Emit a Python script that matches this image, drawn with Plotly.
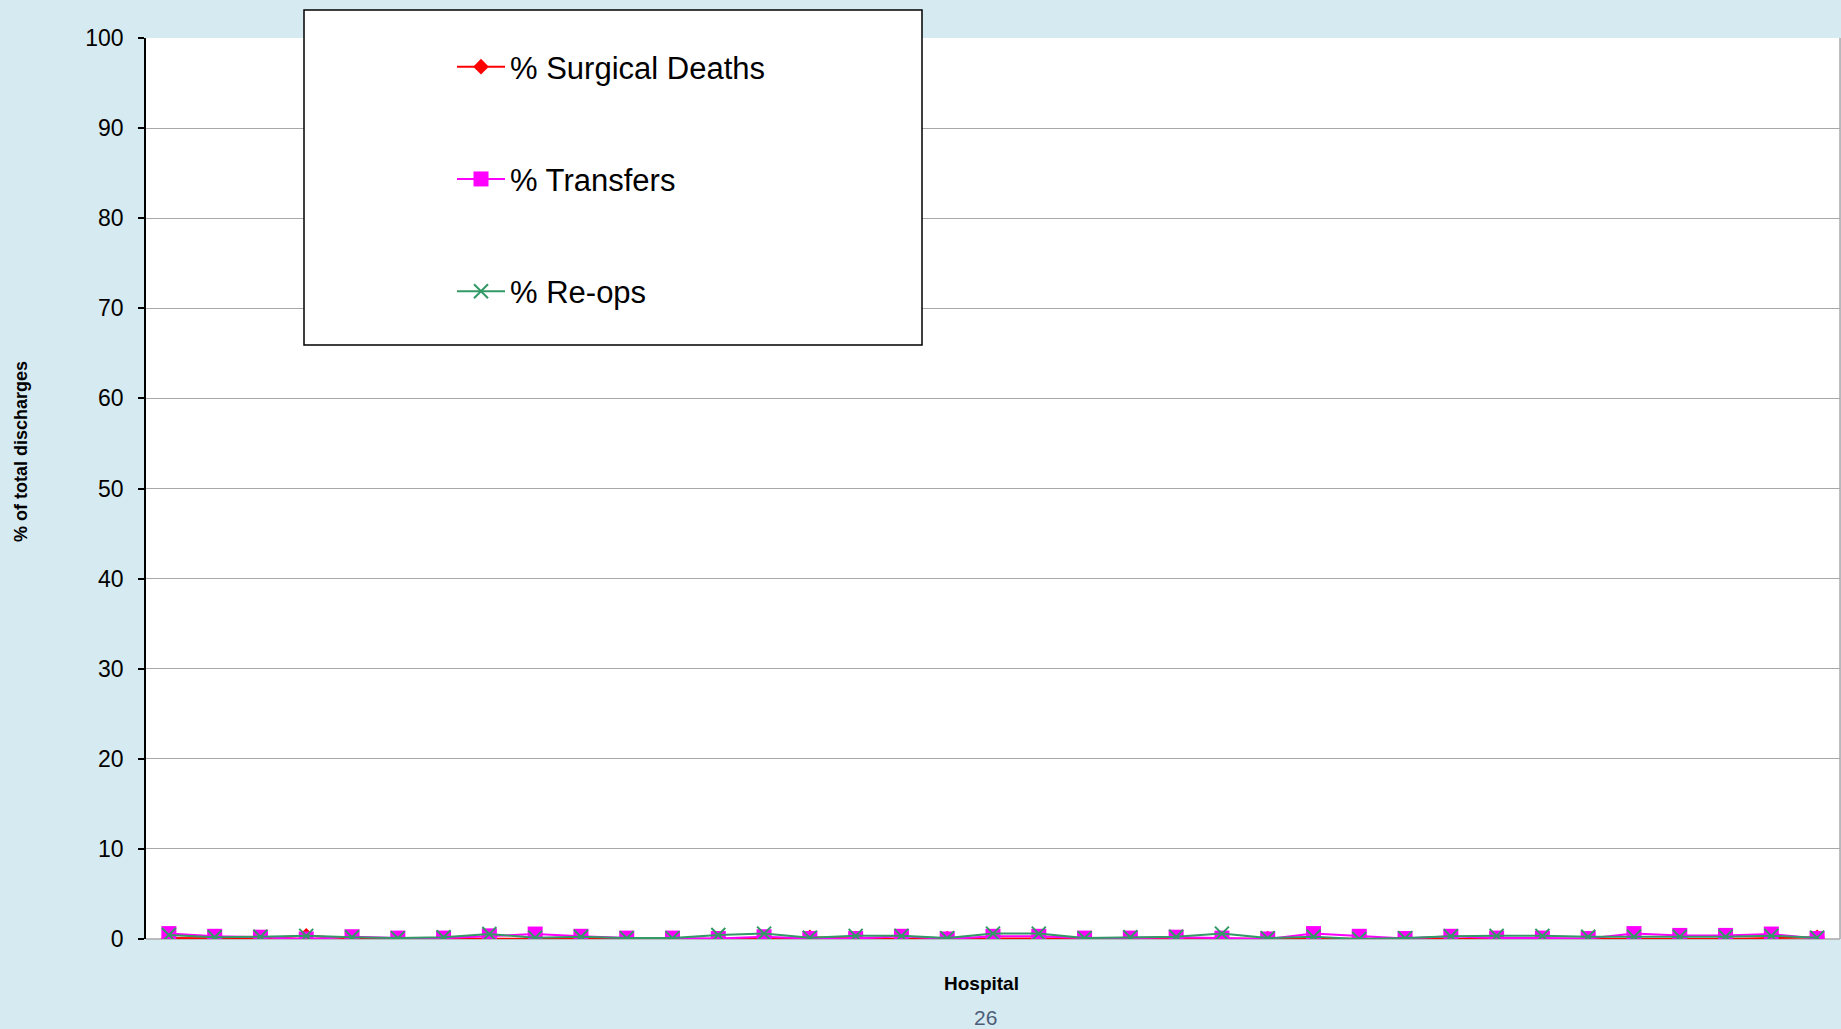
import plotly.graph_objects as go

hospitals = list(range(1, 38))
surgical_deaths = [0.1, 0.05, 0.05, 0.35, 0.05, 0.05, 0.05, 0.05, 0.0, 0.0,
                   0.05, 0.05, 0.05, 0.0, 0.2, 0.05, 0.0, 0.05, 0.05, 0.05,
                   0.05, 0.05, 0.05, 0.05, 0.05, 0.0, 0.05, 0.05, 0.05, 0.05,
                   0.05, 0.05, 0.0, 0.0, 0.0, 0.1, 0.2]
transfers = [0.6, 0.3, 0.2, 0.0, 0.25, 0.1, 0.1, 0.35, 0.55, 0.3,
             0.1, 0.1, 0.05, 0.25, 0.05, 0.05, 0.3, 0.0, 0.3, 0.3,
             0.1, 0.1, 0.2, 0.1, 0.0, 0.6, 0.3, 0.05, 0.3, 0.1,
             0.1, 0.05, 0.6, 0.4, 0.4, 0.55, 0.05]
re_ops = [0.45, 0.2, 0.25, 0.35, 0.2, 0.1, 0.2, 0.55, 0.15, 0.25,
          0.1, 0.1, 0.45, 0.6, 0.15, 0.35, 0.35, 0.1, 0.6, 0.6,
          0.1, 0.2, 0.25, 0.6, 0.1, 0.25, 0.0, 0.1, 0.3, 0.35,
          0.35, 0.25, 0.25, 0.25, 0.25, 0.35, 0.15]
y_ticks = [0, 10, 20, 30, 40, 50, 60, 70, 80, 90, 100]

FONT = "Liberation Sans, Arial, sans-serif"

fig = go.Figure()
fig.add_trace(go.Scatter(
    x=hospitals, y=surgical_deaths, name="% Surgical Deaths", mode="lines+markers",
    line=dict(color="#ff0000", width=2),
    marker=dict(symbol="diamond", size=12, color="#ff0000"),
    legendgroup="a"))
fig.add_trace(go.Scatter(
    x=hospitals, y=transfers, name="% Transfers", mode="lines+markers",
    line=dict(color="#ff00ff", width=2),
    marker=dict(symbol="square", size=15, color="#ff00ff"),
    legendgroup="b"))
fig.add_trace(go.Scatter(
    x=hospitals, y=re_ops, name="% Re-ops", mode="lines+markers",
    line=dict(color="#339966", width=2),
    marker=dict(symbol="x-thin", size=14, color="#339966",
                line=dict(color="#339966", width=2)),
    legendgroup="c"))

L, R, T, B = 146, 1, 38, 90
W, H = 1841, 1029
pw = W - L - R
ph = H - T - B

def px_x(x):
    return (x - L) / pw

def px_y(y):
    return (H - B - y) / ph

fig.update_layout(
    width=W, height=H,
    margin=dict(l=L, r=R, t=T, b=B),
    paper_bgcolor="#d6eaf1",
    plot_bgcolor="#ffffff",
    font=dict(family=FONT, color="#000000"),
    showlegend=True,
    legend=dict(
        x=px_x(452), y=px_y(40), xanchor="left", yanchor="top",
        bgcolor="rgba(0,0,0,0)", borderwidth=0,
        font=dict(size=31, family=FONT, color="#000000"),
        traceorder="grouped", tracegroupgap=69,
        itemwidth=48,
    ),
    xaxis=dict(
        range=[0.5, 37.5], showticklabels=False, showgrid=False,
        zeroline=False, ticks="", showline=False,
    ),
    yaxis=dict(
        range=[0, 100], tickvals=y_ticks, showgrid=True,
        gridcolor="#a8a8a8", gridwidth=1,
        zeroline=False, showline=True, linecolor="#000000", linewidth=1.5,
        ticks="outside", ticklen=6, tickcolor="#000000", tickwidth=1.5,
        tickfont=dict(size=23, family=FONT, color="#000000"),
        ticklabelstandoff=10,
    ),
    shapes=[
        dict(type="rect", xref="paper", yref="paper",
             x0=px_x(304), x1=px_x(922), y0=px_y(345), y1=px_y(10),
             fillcolor="#ffffff", line=dict(color="#000000", width=1.5),
             layer="above"),
        dict(type="line", xref="paper", yref="paper",
             x0=1, x1=1, y0=0, y1=1, line=dict(color="#a8a8a8", width=1.5)),
        dict(type="line", xref="paper", yref="paper",
             x0=0, x1=1, y0=0, y1=0, line=dict(color="#a8a8a8", width=1.5),
             layer="below"),
    ],
    annotations=[
        dict(text="<b>% of total discharges</b>", xref="paper", yref="paper",
             x=px_x(21), y=px_y(452), textangle=-90, showarrow=False,
             xanchor="center", yanchor="middle",
             font=dict(size=18, family=FONT, color="#000000")),
        dict(text="<b>Hospital</b>", xref="paper", yref="paper",
             x=px_x(981), y=px_y(984), showarrow=False,
             xanchor="center", yanchor="middle",
             font=dict(size=19, family=FONT, color="#000000")),
        dict(text="26", xref="paper", yref="paper",
             x=px_x(985), y=px_y(1017), showarrow=False,
             xanchor="center", yanchor="middle",
             font=dict(size=21, family=FONT, color="#4d5d78")),
    ],
)

fig.write_html(
    "out.html",
    config={"displayModeBar": False},
    post_script="document.body.style.margin='0';document.body.style.background='#d6eaf1';",
)
